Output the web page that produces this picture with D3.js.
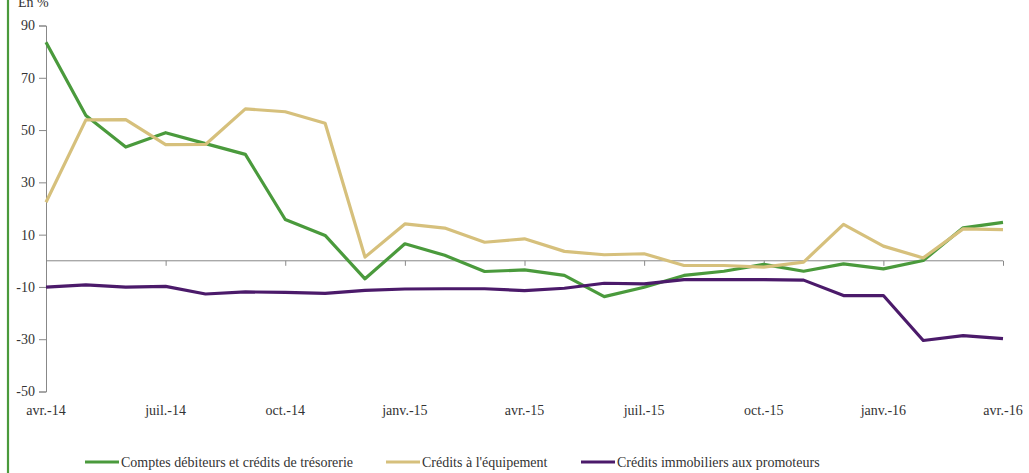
<!DOCTYPE html>
<html><head><meta charset="utf-8">
<script src="https://cdn.jsdelivr.net/npm/d3@7"></script>
<style>
body{margin:0;background:#fff;}
svg text{font-family:"Liberation Serif","Times New Roman","DejaVu Serif",serif !important;fill:#333;}
</style></head>
<body><svg id="c" width="1029" height="473"></svg>
<script>
const months = ["avr.-14","mai-14","juin-14","juil.-14","août-14","sept.-14","oct.-14","nov.-14","déc.-14","janv.-15","févr.-15","mars-15","avr.-15","mai-15","juin-15","juil.-15","août-15","sept.-15","oct.-15","nov.-15","déc.-15","janv.-16","févr.-16","mars-16","avr.-16"];
const tickLabels = ["avr.-14","juil.-14","oct.-14","janv.-15","avr.-15","juil.-15","oct.-15","janv.-16","avr.-16"];
const yTicks = [90,70,50,30,10,-10,-30,-50];
const seriesNames = ["Comptes débiteurs et crédits de trésorerie","Crédits à l'équipement","Crédits immobiliers aux promoteurs"];
const comptes = [83.6,55.6,43.5,49.0,44.8,40.7,15.8,9.7,-6.9,6.5,2.1,-4.1,-3.5,-5.6,-13.7,-10.1,-5.6,-4.0,-1.4,-4.0,-1.2,-3.1,0.1,12.6,14.7];
const equipement = [22.4,53.9,54.0,44.4,44.5,58.1,57.0,52.6,1.4,14.1,12.5,7.1,8.4,3.6,2.3,2.7,-1.8,-1.8,-2.4,-0.5,13.9,5.6,1.1,12.2,11.9];
const promoteurs = [-10.1,-9.2,-10.1,-9.8,-12.7,-11.9,-12.1,-12.5,-11.3,-10.8,-10.7,-10.7,-11.4,-10.5,-8.6,-8.8,-7.2,-7.2,-7.2,-7.4,-13.3,-13.3,-30.5,-28.6,-29.8];
const colors = ["#4a9a3c","#d6c07c","#4b1a6a"];
const FONT = "Liberation Serif, Times New Roman, serif";

const svg = d3.select("#c");
const x = d3.scalePoint().domain(months).range([46,1003]);
const y = d3.scaleLinear().domain([-50,90]).range([391.5,25.5]);

svg.append("line").attr("x1",8).attr("x2",8).attr("y1",0).attr("y2",473)
  .attr("stroke","#4a9a3c").attr("stroke-width",2.2);

svg.append("text").attr("x",18).attr("y",7).attr("font-size",14).attr("font-family",FONT).text("En %");

const ya = svg.append("g").attr("transform","translate(46,0)")
  .call(d3.axisLeft(y).tickValues(yTicks).tickSize(7).tickPadding(4).tickFormat(d=>String(d)));
ya.attr("font-family",FONT);
ya.select(".domain").attr("stroke","#888");
ya.selectAll(".tick line").attr("stroke","#888");
ya.selectAll("text").attr("font-size",14).attr("fill","#333");

const xa = svg.append("g").attr("transform",`translate(0,${y(0)})`)
  .call(d3.axisBottom(x).tickValues(tickLabels).tickSize(5).tickFormat(""));
xa.select(".domain").attr("stroke","#888").attr("d",`M46,0H1003`);
xa.selectAll(".tick line").attr("stroke","#888");

svg.append("g").attr("font-family",FONT).selectAll("text").data(tickLabels).join("text")
  .attr("x",d=>x(d)).attr("y",415).attr("text-anchor","middle").attr("font-size",14).text(d=>d);

const line = d3.line().x((d,i)=>x(months[i])).y(d=>y(d));
[comptes,equipement,promoteurs].forEach((s,k)=>{
  svg.append("path").datum(s).attr("d",line).attr("fill","none")
    .attr("stroke",colors[k]).attr("stroke-width",3.2).attr("stroke-linejoin","round");
});

const lx = [85,386,581];
seriesNames.forEach((n,k)=>{
  svg.append("line").attr("x1",lx[k]).attr("x2",lx[k]+34).attr("y1",462).attr("y2",462)
    .attr("stroke",colors[k]).attr("stroke-width",3.2);
  svg.append("text").attr("x",lx[k]+36).attr("y",467).attr("font-size",14).attr("font-family",FONT).text(n);
});
</script></body></html>
